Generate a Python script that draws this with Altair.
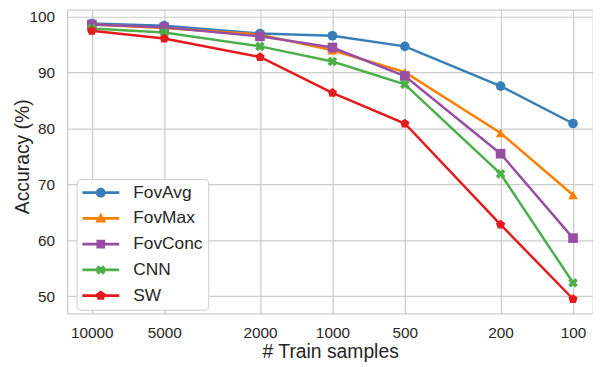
import altair as alt
import pandas as pd

# ---- data ----
series = ["FovAvg", "FovMax", "FovConc", "CNN", "SW"]
samples = [10000, 5000, 2000, 1000, 500, 200, 100]
fov_avg = [98.8, 98.4, 97.0, 96.6, 94.7, 87.6, 80.9]
fov_max = [98.6, 98.0, 96.8, 94.0, 90.1, 79.2, 68.1]
fov_conc = [98.6, 98.1, 96.5, 94.5, 89.4, 75.5, 60.4]
cnn = [97.9, 97.2, 94.7, 92.0, 87.9, 71.9, 52.4]
sw = [97.5, 96.1, 92.8, 86.4, 80.9, 62.8, 49.5]

x_ticks = [10000, 5000, 2000, 1000, 500, 200, 100]
y_ticks = [50, 60, 70, 80, 90, 100]

colors = ["#377eb8", "#ff7f00", "#984ea3", "#4daf4a", "#e41a1c"]

values = [fov_avg, fov_max, fov_conc, cnn, sw]
rows = []
for s, vals in zip(series, values):
    for n, v in zip(samples, vals):
        rows.append({"series": s, "n": n, "acc": v})
df = pd.DataFrame(rows)


# ---- marker shapes (styling) ----
def fmt(v):
    return f"{v:.3f}".rstrip("0").rstrip(".")


def poly(points, k=1.0):
    pts = [(fmt(x * k), fmt(y * k)) for x, y in points]
    return "M" + "L".join(f"{x},{y}" for x, y in pts) + "Z"


x_pts = [(-1, -0.45), (-0.45, -1), (0, -0.55), (0.45, -1), (1, -0.45), (0.55, 0),
         (1, 0.45), (0.45, 1), (0, 0.55), (-0.45, 1), (-1, 0.45), (-0.55, 0)]
pent_pts = [(0, -1), (0.951, -0.309), (0.588, 0.809), (-0.588, 0.809), (-0.951, -0.309)]

X_PATH = poly(x_pts)
PENT_PATH = poly(pent_pts)
point_shapes = ["circle", "triangle-up", "square", X_PATH, PENT_PATH]

# legend symbols: a line segment plus the marker
L, T = 2.33, 0.17
line_seg = f"M{fmt(-L)},{fmt(-T)}H{fmt(L)}V{fmt(T)}H{fmt(-L)}Z"
m = 0.62
circ = f"M{fmt(m)},0A{fmt(m)},{fmt(m)} 0 1,1 {fmt(-m)},0A{fmt(m)},{fmt(m)} 0 1,1 {fmt(m)},0Z"
tri = poly([(0, -0.72), (0.7, 0.5), (-0.7, 0.5)])
sq = poly([(-0.55, -0.55), (0.55, -0.55), (0.55, 0.55), (-0.55, 0.55)])
legend_shapes = [line_seg + circ, line_seg + tri, line_seg + sq,
                 line_seg + poly(x_pts, 0.6), line_seg + poly(pent_pts, 0.66)]

FONT = "Liberation Sans"
TXT = "#262626"

x_enc = alt.X(
    "n:Q",
    scale=alt.Scale(type="log", domain=[82.6, 12630], reverse=True, nice=False, zero=False),
    axis=alt.Axis(values=x_ticks, format="d", title="# Train samples",
                  labelPadding=12, titleY=44, titleBaseline="alphabetic"),
)
y_enc = alt.Y(
    "acc:Q",
    scale=alt.Scale(domain=[46.87, 101.24], nice=False, zero=False),
    axis=alt.Axis(values=y_ticks, format="d", title="Accuracy (%)",
                  labelPadding=13, titleX=-39, titleY=148, titleBaseline="alphabetic",
                  titleAlign="center"),
)
col_scale = alt.Scale(domain=series, range=colors)

base = alt.Chart(df)

lines = base.mark_line(strokeWidth=2.5).encode(
    x=x_enc, y=y_enc,
    color=alt.Color("series:N", scale=col_scale, legend=None),
)

points = base.mark_point(filled=True, size=95, opacity=1).encode(
    x=x_enc, y=y_enc,
    color=alt.Color("series:N", scale=col_scale, legend=None),
    shape=alt.Shape("series:N", scale=alt.Scale(domain=series, range=point_shapes), legend=None),
)

leg = base.mark_point(filled=True, size=10, opacity=0).encode(
    x=x_enc, y=y_enc,
    color=alt.Color("series:N", scale=col_scale,
                    legend=alt.Legend(title=None, orient="none", legendX=9.3, legendY=171)),
    shape=alt.Shape("series:N", scale=alt.Scale(domain=series, range=legend_shapes),
                    legend=alt.Legend(title=None, orient="none", legendX=9.3, legendY=171)),
)

chart = (
    alt.layer(lines, points, leg)
    .resolve_scale(color="independent", shape="independent")
    .properties(width=531, height=307, autosize=alt.AutoSizeParams(type="none"),
                padding={"left": 60, "top": 0, "right": 0, "bottom": 52})
    .configure(font=FONT)
    .configure_view(stroke="#cccccc", strokeWidth=1.25)
    .configure_axis(domain=False, ticks=False, tickSize=0, grid=True, gridColor="#cccccc",
                    gridWidth=1.25, labelFont=FONT, labelFontSize=15.5, labelColor=TXT,
                    titleFont=FONT, titleFontSize=19.5, titleFontWeight="normal", titleColor=TXT)
    .configure_legend(labelFont=FONT, labelFontSize=17.5, labelColor=TXT,
                      symbolSize=256, symbolStrokeWidth=0, symbolOpacity=1,
                      symbolOffset=10.7, labelOffset=24, rowPadding=7,
                      padding=5, strokeColor="#cccccc", fillColor="white",
                      cornerRadius=4)
)

chart.save("out.html", embed_options={"renderer": "svg", "actions": False})
